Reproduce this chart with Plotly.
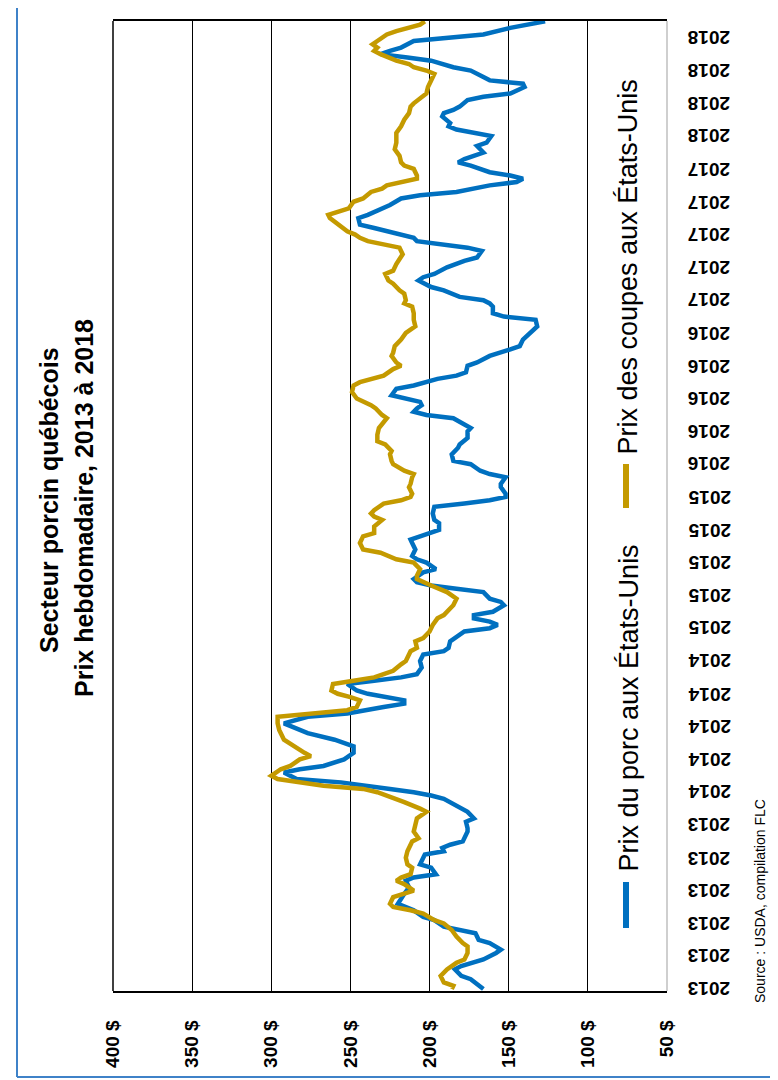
import plotly.graph_objects as go

# ---------------- data ----------------
weeks_porc = [0, 3, 4, 6, 7, 9, 11, 12, 14, 15, 17, 18, 19, 21, 22, 24, 26, 29, 31, 33, 34, 35, 37, 38, 39, 41, 42, 43, 44, 45, 48, 49, 51, 52, 54, 56, 58, 59, 60,
              61, 63, 64, 66, 67, 68, 70, 72, 74, 76, 78, 80, 81, 83, 84, 86, 87, 88, 89, 90, 91, 93, 94, 95, 96, 98, 100, 102, 103, 104, 106, 107, 109, 110, 111, 112, 113, 114, 115, 117, 118, 119,
              121, 122, 123, 124, 125, 127, 128, 130, 131, 132, 134, 136, 137, 138, 140, 142, 143, 145, 147, 148, 149, 150, 151, 153, 154, 156, 157, 158, 160, 161, 163, 165, 166, 168, 170, 171, 174, 175, 176, 177, 178, 179,
              180, 181, 183, 184, 186, 187, 188, 190, 191, 193, 195, 196, 198, 200, 202, 204, 205, 206, 208, 209, 210, 211, 213, 214, 216, 217, 218, 220, 222, 223, 225, 226, 227, 228, 229, 230, 231, 232, 233, 235, 236, 238,
              239, 241, 242, 243, 245, 246, 247, 248, 249, 251, 252, 253, 254, 255, 257, 258, 260, 261, 262, 263, 264, 266, 267, 268, 269, 271, 272, 273, 275, 276, 277, 278, 280, 281, 282, 283, 284, 285, 286, 287, 289, 290, 291, 293, 294, 295]
prix_porc = [166, 174, 180, 184, 180, 166, 158, 155, 162, 169, 171, 183, 191, 197, 204, 210, 220, 216, 213, 215, 210, 196, 199, 206, 205, 203, 191, 192, 187, 179, 176, 176, 177, 172, 176, 183, 191, 199, 210,
             225, 256, 284, 292, 282, 267, 254, 248, 248, 260, 277, 288, 292, 277, 252, 229, 216, 216, 229, 239, 246, 252, 235, 218, 208, 205, 206, 204, 191, 188, 187, 184, 178, 162, 157, 162, 172, 172, 160, 153, 155, 162,
             166, 183, 199, 208, 210, 204, 196, 202, 208, 211, 209, 211, 212, 206, 194, 194, 197, 198, 197, 178, 162, 152, 152, 155, 155, 152, 162, 168, 174, 185, 186, 182, 181, 176, 176, 174, 185, 202, 210, 208, 205, 206,
             214, 224, 221, 210, 195, 183, 177, 176, 170, 162, 149, 143, 141, 136, 132, 133, 153, 160, 160, 162, 166, 181, 191, 199, 207, 204, 197, 189, 178, 170, 167, 176, 191, 208, 210, 218, 225, 235, 244, 245, 239, 229,
             225, 218, 206, 183, 162, 145, 141, 149, 162, 174, 182, 178, 172, 166, 170, 164, 161, 172, 183, 188, 187, 192, 191, 185, 181, 176, 166, 149, 140, 141, 162, 166, 174, 185, 191, 199, 214, 231, 225, 218, 210, 187, 166, 149, 136, 127]

weeks_coupes = [0, 1, 2, 4, 6, 8, 9, 11, 13, 14, 16, 18, 20, 21, 23, 24, 25, 26, 28, 29, 30, 32, 33, 34, 35, 37, 38, 40, 42, 45, 46, 48, 50, 52, 54, 55, 57, 59, 60,
                61, 62, 64, 65, 67, 68, 70, 71, 72, 74, 76, 79, 81, 83, 84, 85, 86, 88, 89, 90, 91, 93, 94, 95, 96, 97, 99, 100, 103, 104, 106, 107, 109, 111, 113, 114, 116, 117, 119,
                121, 123, 125, 126, 128, 130, 131, 133, 134, 136, 138, 139, 141, 143, 144, 145, 146, 148, 149, 150, 151, 153, 154, 156, 157, 158, 160, 161, 163, 164, 166, 167, 169, 171, 174, 175, 177, 178,
                180, 182, 184, 185, 186, 187, 189, 190, 191, 193, 194, 196, 198, 200, 202, 204, 206, 208, 209, 210, 212, 213, 215, 216, 218, 219, 221, 223, 224, 226, 227, 228, 229, 230, 231, 233, 235, 236, 237, 238,
                240, 241, 243, 244, 245, 246, 247, 248, 250, 251, 252, 254, 256, 258, 261, 263, 265, 267, 269, 270, 272, 273, 275, 277, 279, 280, 281, 282, 283, 285, 286, 287, 288, 289, 291, 292, 293, 294, 295]
prix_coupes = [186, 185, 191, 193, 189, 183, 178, 176, 176, 179, 183, 186, 191, 197, 204, 212, 223, 225, 223, 216, 210, 216, 221, 218, 212, 211, 214, 215, 214, 211, 207, 210, 209, 208, 202, 206, 216, 227, 233,
               242, 267, 296, 300, 294, 288, 282, 275, 279, 286, 292, 295, 296, 296, 277, 252, 246, 244, 250, 258, 262, 261, 248, 235, 229, 223, 218, 215, 212, 208, 209, 204, 200, 198, 195, 191, 187, 185, 183,
               189, 199, 208, 208, 206, 210, 221, 231, 242, 244, 242, 235, 235, 230, 235, 237, 235, 229, 218, 212, 211, 213, 212, 211, 210, 216, 223, 224, 225, 224, 228, 233, 233, 232, 227, 230, 234, 237,
               246, 249, 248, 244, 235, 229, 223, 218, 221, 224, 223, 222, 218, 215, 209, 210, 210, 211, 216, 215, 216, 219, 223, 226, 228, 223, 221, 218, 217, 219, 231, 239, 244, 247, 252, 258, 263, 264, 258, 251,
               248, 242, 237, 230, 227, 218, 208, 208, 210, 216, 218, 219, 222, 221, 221, 218, 216, 213, 212, 210, 205, 202, 201, 199, 197, 202, 210, 213, 221, 231, 235, 233, 236, 233, 227, 221, 212, 206, 203]

tick_weeks = [0, 10, 20, 30, 40, 50, 60, 70, 80, 90, 100, 110, 120, 130, 140,
              150, 160, 170, 180, 190, 200, 210, 220, 230, 240, 250, 260, 270, 280, 290]
tick_years = ["2013", "2013", "2013", "2013", "2013", "2013",
              "2014", "2014", "2014", "2014", "2014",
              "2015", "2015", "2015", "2015", "2015",
              "2016", "2016", "2016", "2016", "2016",
              "2017", "2017", "2017", "2017", "2017",
              "2018", "2018", "2018", "2018"]
value_ticks = [50, 100, 150, 200, 250, 300, 350, 400]
value_labels = ["50 $", "100 $", "150 $", "200 $", "250 $", "300 $", "350 $", "400 $"]

name_porc = "Prix du porc aux États-Unis"
name_coupes = "Prix des coupes aux États-Unis"
title_1 = "Secteur porcin québécois"
title_2 = "Prix hebdomadaire, 2013 à 2018"
source_text = "Source : USDA, compilation FLC"

# ---------------- style ----------------
FONT = "Liberation Sans, Arial, sans-serif"
BLUE = "#0070c0"
GOLD = "#c49a00"
W, H = 778, 1080
L, R, T, B = 105, 119, 13, 97
PW, PH = W - L - R, H - T - B


def px(xp):
    return (xp - L) / PW


def py(yp):
    return (H - B - yp) / PH


fig = go.Figure()
fig.add_trace(go.Scatter(x=prix_porc, y=weeks_porc, mode="lines", name=name_porc,
                         line=dict(color=BLUE, width=4.5), showlegend=False))
fig.add_trace(go.Scatter(x=prix_coupes, y=weeks_coupes, mode="lines", name=name_coupes,
                         line=dict(color=GOLD, width=4.5), showlegend=False))

annotations = []
for wk, yr in zip(tick_weeks, tick_years):
    annotations.append(dict(x=px(678), xref="paper", y=wk, yref="y", text=yr,
                            showarrow=False, textangle=180, xanchor="left", yanchor="middle",
                            font=dict(family=FONT, size=19, color="black", weight="bold")))

annotations += [
    dict(x=px(41), y=py(492), xref="paper", yref="paper", text=title_1, showarrow=False,
         textangle=-90, xanchor="center", yanchor="middle",
         font=dict(family=FONT, size=25, color="black", weight="bold")),
    dict(x=px(76), y=py(500), xref="paper", yref="paper", text=title_2, showarrow=False,
         textangle=-90, xanchor="center", yanchor="middle",
         font=dict(family=FONT, size=25, color="black", weight="bold")),
    dict(x=px(752), y=py(997), xref="paper", yref="paper", text=source_text, showarrow=False,
         textangle=-90, xanchor="center", yanchor="bottom",
         font=dict(family=FONT, size=14, color="black")),
    dict(x=px(620), y=py(866), xref="paper", yref="paper", text=name_porc, showarrow=False,
         textangle=-90, xanchor="center", yanchor="bottom",
         font=dict(family=FONT, size=27, color="black")),
    dict(x=px(620), y=py(449), xref="paper", yref="paper", text=name_coupes, showarrow=False,
         textangle=-90, xanchor="center", yanchor="bottom",
         font=dict(family=FONT, size=27, color="black")),
]

shapes = [
    # plot frame left (black) and right (grey)
    dict(type="line", xref="paper", yref="paper", x0=0, x1=0, y0=0, y1=1,
         line=dict(color="black", width=1.5), layer="above"),
    dict(type="line", xref="paper", yref="paper", x0=1, x1=1, y0=0, y1=1,
         line=dict(color="#bfbfbf", width=1.5), layer="above"),
    # outer blue frame
    dict(type="line", xref="paper", yref="paper", x0=px(9), x1=px(9), y0=py(-2), y1=py(1069),
         line=dict(color="#3f82c8", width=2)),
    dict(type="line", xref="paper", yref="paper", x0=px(9), x1=px(780), y0=py(1069), y1=py(1069),
         line=dict(color="#3f82c8", width=2)),
    # legend keys
    dict(type="line", xref="paper", yref="paper", x0=px(618), x1=px(618), y0=py(920), y1=py(874),
         line=dict(color=BLUE, width=6)),
    dict(type="line", xref="paper", yref="paper", x0=px(618), x1=px(618), y0=py(500), y1=py(456),
         line=dict(color=GOLD, width=6)),
]

fig.update_layout(
    width=W, height=H,
    margin=dict(l=L, r=R, t=T, b=B, pad=0),
    paper_bgcolor="white", plot_bgcolor="white",
    showlegend=False,
    font=dict(family=FONT, color="black"),
    xaxis=dict(range=[400, 50], tickvals=value_ticks, ticktext=value_labels,
               tickangle=-90, tickfont=dict(family=FONT, size=19, color="black", weight="bold"),
               showgrid=True, gridcolor="black", gridwidth=1.3, zeroline=False,
               showline=True, linecolor="black", linewidth=1.5, mirror=True,
               ticks="outside", ticklen=20, tickcolor="rgba(0,0,0,0)"),
    yaxis=dict(range=[-0.6, 295.1], showgrid=False, zeroline=False, showticklabels=False,
               showline=False, ticks=""),
    annotations=annotations,
    shapes=shapes,
)

fig.write_html("out.html")
